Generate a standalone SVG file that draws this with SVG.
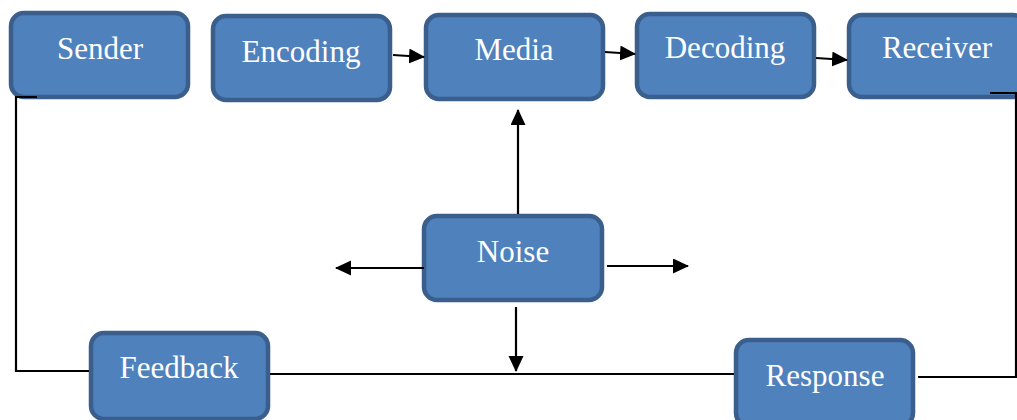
<svg xmlns="http://www.w3.org/2000/svg" width="1017" height="420" viewBox="0 0 1017 420">
<style>
.box{fill:#4F81BD;stroke:#3A5F8D;stroke-width:4.5}
.lbl{font-family:"Liberation Serif","Times New Roman",serif;font-size:31px;fill:#fff;text-anchor:middle}
.ln{stroke:#000;stroke-width:2.2;fill:none}
</style>
<defs>
<marker id="ah" markerWidth="18" markerHeight="18" refX="15" refY="7.5" orient="auto" markerUnits="userSpaceOnUse">
<path d="M0,0 L16,7.5 L0,15 Z" fill="#000"/>
</marker>
</defs>
<rect width="1017" height="420" fill="#fff"/>
<g id="sender"><rect class="box" x="11" y="13" width="177" height="84" rx="13"/><text class="lbl" x="100" y="59">Sender</text></g>
<g id="encoding"><rect class="box" x="213" y="16" width="177" height="84" rx="13"/><text class="lbl" x="301" y="62">Encoding</text></g>
<g id="media"><rect class="box" x="426" y="15" width="177" height="84" rx="13"/><text class="lbl" x="514" y="60">Media</text></g>
<g id="decoding"><rect class="box" x="637" y="14" width="177" height="83" rx="13"/><text class="lbl" x="725" y="58">Decoding</text></g>
<g id="receiver"><rect class="box" x="849" y="15" width="177" height="82" rx="13"/><text class="lbl" x="937" y="58">Receiver</text></g>
<g id="noise"><rect class="box" x="424" y="216" width="178" height="84" rx="13"/><text class="lbl" x="513" y="262">Noise</text></g>
<g id="feedback"><rect class="box" x="91" y="333" width="177" height="86" rx="13"/><text class="lbl" x="179" y="378">Feedback</text></g>
<g id="response"><rect class="box" x="736" y="340" width="177" height="86" rx="13"/><text class="lbl" x="825" y="386">Response</text></g>
<g id="connectors">
<line class="ln" x1="393" y1="55" x2="424" y2="57" marker-end="url(#ah)"/>
<line class="ln" x1="605" y1="52" x2="635" y2="54" marker-end="url(#ah)"/>
<line class="ln" x1="816" y1="58" x2="847" y2="60" marker-end="url(#ah)"/>
<line class="ln" x1="518" y1="214" x2="518" y2="110" marker-end="url(#ah)"/>
<line class="ln" x1="424" y1="268" x2="336" y2="268" marker-end="url(#ah)"/>
<line class="ln" x1="607" y1="266" x2="688" y2="266" marker-end="url(#ah)"/>
<line class="ln" x1="516" y1="307" x2="516" y2="371" marker-end="url(#ah)"/>
<polyline class="ln" points="37,97 16,97 16,371 89,371"/>
<line class="ln" x1="270" y1="374" x2="734" y2="374"/>
<polyline class="ln" points="918,377 1016,377 1016,93 990,93"/>
</g>
</svg>
